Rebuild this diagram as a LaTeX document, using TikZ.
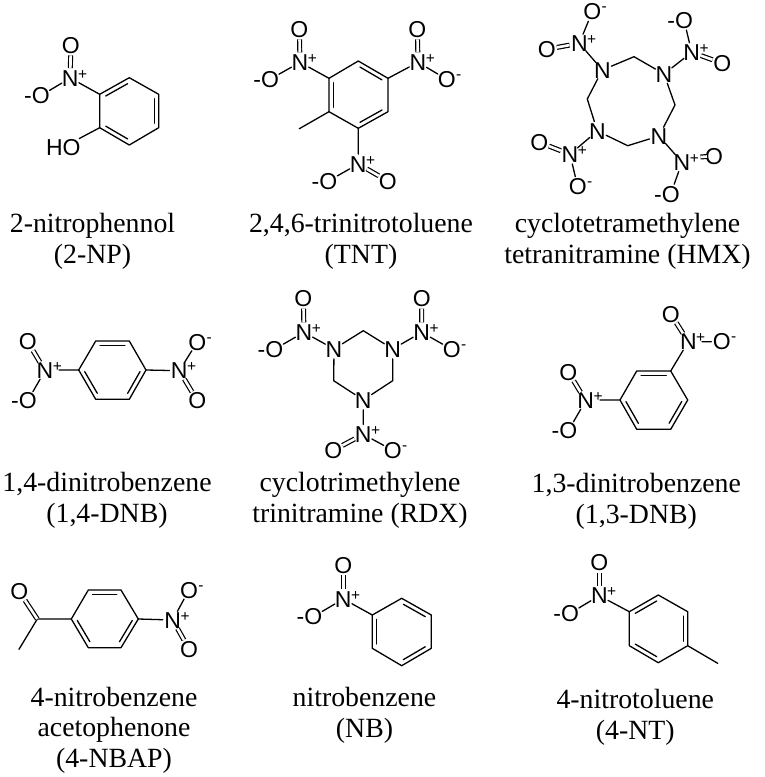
\documentclass[tikz,border=0pt]{standalone}
\usepackage{fontspec}
\setmainfont{Liberation Serif}
\newfontfamily\atomfont{Liberation Sans}
\usetikzlibrary{calc}
\newcommand{\chgfont}{\fontsize{15.5}{15.5}\selectfont}
% N with plus, O with upper-right minus, O with left minus (element stays centred on the node)
\newcommand{\Np}{N\rlap{\smash{\raisebox{7pt}{\kern-0.5pt\chgfont+}}}}
\newcommand{\Om}{O\rlap{\smash{\raisebox{8pt}{\kern0.5pt\chgfont-}}}}
\newcommand{\mO}{\llap{-}O}
\tikzset{
  bond/.style={line width=1.3pt,line join=round,line cap=round,black},
  dblbond/.style={line width=1.2pt,double,double distance=2.6pt,black},
  atom/.style={circle,inner sep=0pt,outer sep=-1.8pt,text height=16.5pt,text depth=0pt,
    font=\atomfont\fontsize{23}{23}\selectfont},
  hydroxyl/.style={rectangle,inner sep=0pt,text height=16.5pt,text depth=0pt,
    font=\atomfont\fontsize{23}{23}\selectfont},
  captext/.style={inner sep=0pt,anchor=north,align=center,
    font=\fontsize{27.8}{31}\selectfont},
}
% inner line of a ring double bond: a,b in clockwise order on the page
\newcommand{\ringdb}[2]{\draw[bond] ($(#1)!.13!(#2)!4.4pt!-90:(#2)$) -- ($(#2)!.13!(#1)!4.4pt!90:(#1)$);}
\newcommand{\hexring}[7]{% prefix + six points clockwise
  \coordinate (#1a) at #2; \coordinate (#1b) at #3; \coordinate (#1c) at #4;
  \coordinate (#1d) at #5; \coordinate (#1e) at #6; \coordinate (#1f) at #7;
  \draw[bond] (#1a)--(#1b)--(#1c)--(#1d)--(#1e)--(#1f)--cycle;}
\begin{document}
\begin{tikzpicture}[x=1pt,y=-1pt]
\useasboundingbox (0,0) rectangle (765,777);

% ---- 2-NP
\hexring{A}{(129.3,77.7)}{(158.7,94.3)}{(158.7,127.7)}{(129.3,145)}{(99.7,127.7)}{(99.7,94.3)}
\ringdb{Af}{Aa}\ringdb{Ab}{Ac}\ringdb{Ad}{Ae}
\node[atom] (An) at (70.3,78) {\Np};
\node[atom] (Ao1) at (70.7,45) {O};
\node[atom] (Ao2) at (40.7,95.7) {\mO};
\node[hydroxyl] (Aho) at (63.3,147) {HO};
\draw[bond] (An)--(Af) (An)--(Ao2) (Ae)--(Aho);
\draw[dblbond] (An)--(Ao1);
\node[captext] (Acap) at (92.5,213.5) {2-nitrophennol\\(2-NP)};

% ---- TNT
\hexring{B}{(358.3,61)}{(388,78.3)}{(388,111.7)}{(358.3,128.3)}{(329,111.7)}{(329,78.3)}
\ringdb{Ba}{Bb}\ringdb{Bc}{Bd}\ringdb{Be}{Bf}
\coordinate (Bme) at (299.3,128.7);
\draw[bond] (Be)--(Bme);
\node[atom] (Bn1) at (300,62.3) {\Np};
\node[atom] (Bo1) at (299.3,29) {O};
\node[atom] (Bo2) at (270,79.3) {\mO};
\node[atom] (Bn2) at (418,62.3) {\Np};
\node[atom] (Bo3) at (417.3,29) {O};
\node[atom] (Bo4) at (446.7,79.3) {\Om};
\node[atom] (Bn3) at (358.3,164) {\Np};
\node[atom] (Bo5) at (387.7,181) {O};
\node[atom] (Bo6) at (328.3,181) {\mO};
\draw[bond] (Bn1)--(Bf) (Bn1)--(Bo2) (Bn2)--(Bb) (Bn2)--(Bo4) (Bn3)--(Bd) (Bn3)--(Bo6);
\draw[dblbond] (Bn1)--(Bo1) (Bn2)--(Bo3) (Bn3)--(Bo5);
\node[captext] (Bcap) at (361,213.5) {2,4,6-trinitrotoluene\\(TNT)};

% ---- HMX
\node[atom] (Cn1) at (602.3,70) {N};
\node[atom] (Cn2) at (664,74) {N};
\node[atom] (Cn3) at (597.3,131) {N};
\node[atom] (Cn4) at (659,136) {N};
\coordinate (Cc1) at (634,56.7);
\coordinate (Cc2) at (675,105);
\coordinate (Cc3) at (627.7,145.7);
\coordinate (Cc4) at (587.3,99);
\draw[bond] (Cn1)--(Cc1)--(Cn2)--(Cc2)--(Cn4)--(Cc3)--(Cn3)--(Cc4)--(Cn1);
\node[atom] (Cn5) at (579.3,43.3) {\Np};
\node[atom] (Co1) at (592.3,11.7) {\Om};
\node[atom] (Co2) at (546.7,49.3) {O};
\node[atom] (Cn6) at (691.7,52.3) {\Np};
\node[atom] (Co3) at (684,20) {\mO};
\node[atom] (Co4) at (722.3,63.3) {O};
\node[atom] (Cn7) at (570,154.3) {\Np};
\node[atom] (Co5) at (539.3,142.3) {O};
\node[atom] (Co6) at (577.7,186.7) {\Om};
\node[atom] (Cn8) at (682,162.3) {\Np};
\node[atom] (Co7) at (714,156) {O};
\node[atom] (Co8) at (670.7,194) {\mO};
\coordinate (Cn8r) at (700.5,157);
\coordinate (Co7l) at (707,156.5);
\draw[bond] (Cn1)--(Cn5) (Cn5)--(Co1) (Cn2)--(Cn6) (Cn6)--(Co3) (Cn3)--(Cn7) (Cn7)--(Co6) (Cn4)--(Cn8) (Cn8)--(Co8);
\draw[dblbond] (Cn5)--(Co2) (Cn6)--(Co4) (Cn7)--(Co5) (Cn8r)--(Co7l);
\node[captext] (Ccap) at (627.5,213.5) {cyclotetramethylene\\tetranitramine (HMX)};

% ---- 1,4-DNB
\hexring{D}{(95.7,341)}{(129.3,341)}{(146,370)}{(129.3,399.3)}{(95.7,399.3)}{(78.7,370)}
\ringdb{Da}{Db}\ringdb{Dc}{Dd}\ringdb{De}{Df}
\node[atom] (Dn1) at (45,370.7) {\Np};
\node[atom] (Do1) at (27.7,341.7) {O};
\node[atom] (Do2) at (27.7,400.7) {\mO};
\node[atom] (Dn2) at (179.3,370.7) {\Np};
\node[atom] (Do3) at (197.3,342) {\Om};
\node[atom] (Do4) at (197.3,400.7) {O};
\coordinate (Dn1r) at (59,370);
\draw[bond] (Dn1r)--(Df) (Dn1)--(Do2) (Dc)--(Dn2) (Dn2)--(Do3);
\draw[dblbond] (Dn1)--(Do1) (Dn2)--(Do4);
\node[captext] (Dcap) at (107,472.3) {1,4-dinitrobenzene\\(1,4-DNB)};

% ---- RDX
\node[atom] (En1) at (334,349) {N};
\node[atom] (En2) at (392.7,349) {N};
\node[atom] (En3) at (363.3,400) {N};
\coordinate (Ec1) at (363.3,330.7);
\coordinate (Ec2) at (392.7,380.7);
\coordinate (Ec3) at (333.7,380.7);
\draw[bond] (En1)--(Ec1)--(En2)--(Ec2)--(En3)--(Ec3)--(En1);
\node[atom] (En4) at (304,332.3) {\Np};
\node[atom] (Eo1) at (303.3,298.3) {O};
\node[atom] (Eo2) at (274.3,349.3) {\mO};
\node[atom] (En5) at (421.7,332.3) {\Np};
\node[atom] (Eo3) at (421.7,298.3) {O};
\node[atom] (Eo4) at (451.7,349.3) {\Om};
\node[atom] (En6) at (363.3,434.3) {\Np};
\node[atom] (Eo5) at (333.3,450.3) {O};
\node[atom] (Eo6) at (392.7,450.3) {\Om};
\draw[bond] (En1)--(En4) (En4)--(Eo2) (En2)--(En5) (En5)--(Eo4) (En3)--(En6) (En6)--(Eo6);
\draw[dblbond] (En4)--(Eo1) (En5)--(Eo3) (En6)--(Eo5);
\node[captext] (Ecap) at (360,472.3) {cyclotrimethylene\\trinitramine (RDX)};

% ---- 1,3-DNB
\hexring{F}{(636.7,371)}{(670.7,371)}{(687.7,400)}{(670.7,429.3)}{(636.7,429.3)}{(620,400)}
\ringdb{Fa}{Fb}\ringdb{Fc}{Fd}\ringdb{Fe}{Ff}
\node[atom] (Fn1) at (688.3,341.7) {\Np};
\node[atom] (Fo1) at (670.7,314) {O};
\node[atom] (Fo2) at (721.7,341.7) {\Om};
\node[atom] (Fn2) at (585.7,400.7) {\Np};
\node[atom] (Fo3) at (568.3,372) {O};
\node[atom] (Fo4) at (568.3,430.7) {\mO};
\coordinate (Fn1r) at (702,341.7);
\coordinate (Fn2r) at (600,400);
\draw[bond] (Fn1)--(Fb) (Fn1r)--(Fo2) (Fn2r)--(Ff) (Fn2)--(Fo4);
\draw[dblbond] (Fn1)--(Fo1) (Fn2)--(Fo3);
\node[captext] (Fcap) at (636.3,473.3) {1,3-dinitrobenzene\\(1,3-DNB)};

% ---- 4-NBAP
\hexring{G}{(88.3,590)}{(121,590)}{(138.3,619)}{(121,647.7)}{(88.3,647.7)}{(71.3,619)}
\ringdb{Ga}{Gb}\ringdb{Gc}{Gd}\ringdb{Ge}{Gf}
\coordinate (Gco) at (37.3,619);
\coordinate (Gme) at (19,649.3);
\node[atom] (Go1) at (19.3,591.7) {O};
\node[atom] (Gn) at (172.7,620) {\Np};
\node[atom] (Go2) at (189,590) {\Om};
\node[atom] (Go3) at (189,649) {O};
\draw[bond] (Gme)--(Gco)--(Gf) (Gc)--(Gn) (Gn)--(Go2);
\draw[dblbond] (Gco)--(Go1) (Gn)--(Go3);
\node[captext] (Gcap) at (114,686.5) {4-nitrobenzene\\acetophenone\\(4-NBAP)};

% ---- NB
\hexring{H}{(401.7,598.3)}{(431.3,615)}{(431.3,648.3)}{(401.7,665.7)}{(372.3,648.3)}{(372.3,615)}
\ringdb{Ha}{Hb}\ringdb{Hc}{Hd}\ringdb{He}{Hf}
\node[atom] (Hn) at (343.3,599) {\Np};
\node[atom] (Ho1) at (343.3,565) {O};
\node[atom] (Ho2) at (313.3,616.7) {\mO};
\draw[bond] (Hn)--(Hf) (Hn)--(Ho2);
\draw[dblbond] (Hn)--(Ho1);
\node[captext] (Hcap) at (364.5,687.2) {nitrobenzene\\(NB)};

% ---- 4-NT
\hexring{J}{(658.3,595)}{(687.7,611.7)}{(687.7,645.7)}{(658.3,662.7)}{(629.3,645.7)}{(629.3,611.7)}
\ringdb{Jb}{Jc}\ringdb{Jd}{Je}\ringdb{Jf}{Ja}
\coordinate (Jme) at (717.7,663.3);
\node[atom] (Jn) at (599.3,595.7) {\Np};
\node[atom] (Jo1) at (599.3,562.3) {O};
\node[atom] (Jo2) at (570,613.3) {\mO};
\draw[bond] (Jn)--(Jf) (Jn)--(Jo2) (Jc)--(Jme);
\draw[dblbond] (Jn)--(Jo1);
\node[captext] (Jcap) at (635.3,689.5) {4-nitrotoluene\\(4-NT)};
\end{tikzpicture}
\end{document}
